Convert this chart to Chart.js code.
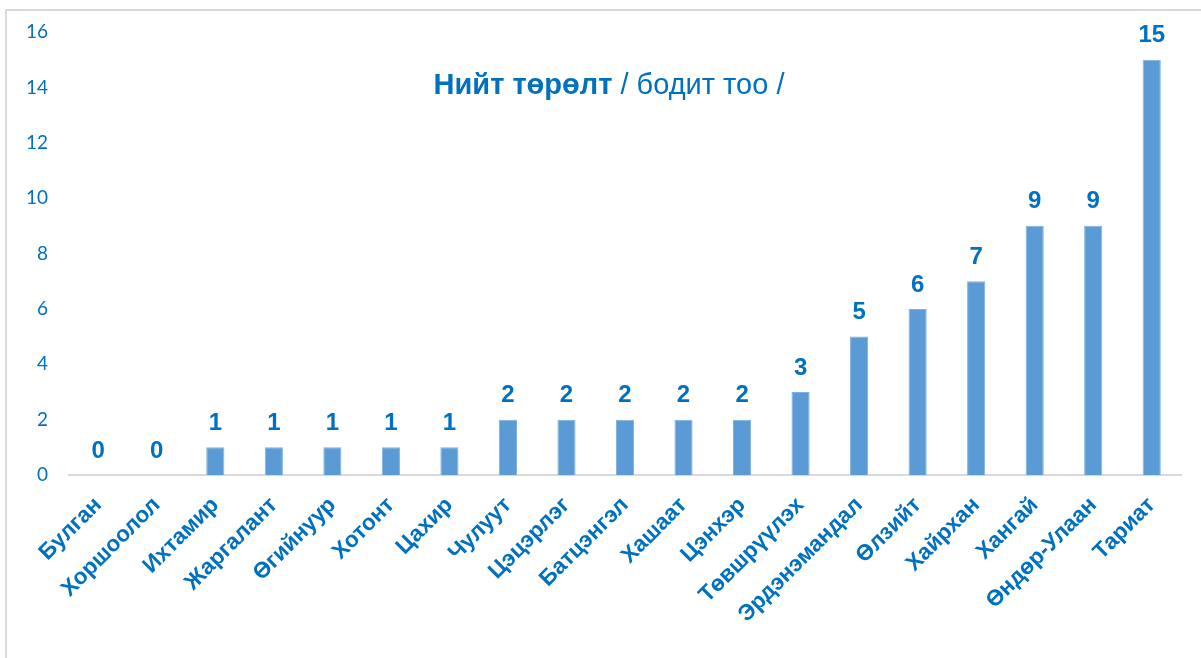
<!DOCTYPE html>
<html>
<head>
<meta charset="utf-8">
<script src="https://cdn.jsdelivr.net/npm/chart.js@4/dist/chart.umd.min.js"></script>
<style>
  body { margin: 0; background: #fff; }
  #frame { position: absolute; left: 5px; top: 9px; width: 1200px; height: 660px; border: 2px solid #d9d9d9; box-sizing: border-box; }
  #wrap { position: absolute; left: 0; top: 0; width: 1201px; height: 658px; }
</style>
</head>
<body>
<div id="frame"></div>
<div id="wrap"><canvas id="barChart"></canvas></div>
<script>
const categories = ["Булган", "Хоршоолол", "Ихтамир", "Жаргалант", "Өгийнуур", "Хотонт", "Цахир", "Чулуут", "Цэцэрлэг", "Батцэнгэл", "Хашаат", "Цэнхэр", "Төвшрүүлэх", "Эрдэнэмандал", "Өлзийт", "Хайрхан", "Хангай", "Өндөр-Улаан", "Тариат"];
const births = [0, 0, 1, 1, 1, 1, 1, 2, 2, 2, 2, 2, 3, 5, 6, 7, 9, 9, 15];
const titleBold = "Нийт төрөлт";
const titleRest = " / бодит тоо /";

const blue = "#0070c0";

// value labels over the bars
const valueLabels = {
  id: "valueLabels",
  afterDatasetsDraw(chart) {
    const ctx = chart.ctx;
    const meta = chart.getDatasetMeta(0);
    ctx.save();
    ctx.font = "bold 24px 'Liberation Sans', Arial, sans-serif";
    ctx.fillStyle = blue;
    ctx.textAlign = "center";
    ctx.textBaseline = "middle";
    meta.data.forEach((bar, i) => {
      ctx.fillText(String(births[i]), bar.x, bar.y - 24);
    });
    ctx.restore();
  }
};

// title: bold part + normal part
const mixedTitle = {
  id: "mixedTitle",
  afterDraw(chart) {
    const ctx = chart.ctx;
    const area = chart.chartArea;
    ctx.save();
    ctx.fillStyle = blue;
    ctx.textBaseline = "middle";
    ctx.font = "bold 29px 'Liberation Sans', Arial, sans-serif";
    const w1 = ctx.measureText(titleBold).width;
    ctx.font = "29px 'Liberation Sans', Arial, sans-serif";
    const w2 = ctx.measureText(titleRest).width;
    const cx = (area.left + area.right) / 2 - 16;
    let x = cx - (w1 + w2) / 2;
    const y = area.top + 54;
    ctx.font = "bold 29px 'Liberation Sans', Arial, sans-serif";
    ctx.textAlign = "left";
    ctx.fillText(titleBold, x, y);
    ctx.font = "29px 'Liberation Sans', Arial, sans-serif";
    ctx.fillText(titleRest, x + w1, y);
    ctx.restore();
  }
};

new Chart(document.getElementById("barChart"), {
  type: "bar",
  data: {
    labels: categories,
    datasets: [{
      data: births,
      backgroundColor: "#5b9bd5",
      borderColor: "#7fb1e0",
      borderWidth: 1,
      barPercentage: 0.31,
      categoryPercentage: 1
    }]
  },
  options: {
    responsive: true,
    maintainAspectRatio: false,
    animation: false,
    layout: { padding: { top: 32, right: 20, left: 0, bottom: 0 } },
    plugins: {
      legend: { display: false },
      tooltip: { enabled: false }
    },
    scales: {
      x: {
        grid: { display: false },
        border: { color: "#d9d9d9", width: 2 },
        ticks: {
          color: blue,
          padding: 9,
          font: { family: "'Liberation Sans', Arial, sans-serif", size: 22.5, weight: "bold" },
          maxRotation: 45,
          minRotation: 45,
          autoSkip: false
        },
        afterFit(scale) { scale.height = 658 - 475; }
      },
      y: {
        min: 0,
        max: 16,
        grid: { display: false },
        border: { display: false },
        ticks: {
          stepSize: 2,
          color: blue,
          padding: 13,
          font: { family: "Lato, 'Open Sans', sans-serif", size: 19 }
        },
        afterFit(scale) { scale.width = 69; }
      }
    }
  },
  plugins: [valueLabels, mixedTitle]
});
</script>
</body>
</html>
